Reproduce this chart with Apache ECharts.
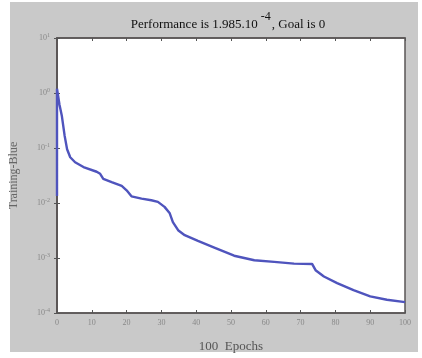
<!DOCTYPE html>
<html>
<head>
<meta charset="utf-8">
<script src="https://cdn.jsdelivr.net/npm/echarts@6/dist/echarts.min.js"></script>
<style>
html,body{margin:0;padding:0;background:#fff;}
#c{width:422px;height:358px;}
</style>
</head>
<body>
<div id="c"></div>
<script>
var epochs = [0, 0, 0.3, 0.7, 1.4, 2.2, 2.9, 3.8, 5.2, 7.6, 11.4, 12.4, 13.3, 15.7, 18.6, 20, 21.4, 24.3, 27.1, 29, 30.9, 32.4, 33.3, 34.8, 36.7, 40.5, 45.2, 50.9, 56.7, 62.4, 68.1, 73.3, 74.3, 76.7, 80.5, 85.2, 90, 94.8, 100];
var performance = [0.0134, 1.2, 1.15, 0.62, 0.38, 0.166, 0.095, 0.068, 0.055, 0.045, 0.037, 0.034, 0.0275, 0.024, 0.0204, 0.017, 0.0132, 0.012, 0.0112, 0.0105, 0.0085, 0.0065, 0.0045, 0.0032, 0.0026, 0.00204, 0.00155, 0.0011, 0.00091, 0.00085, 0.00079, 0.00078, 0.0006, 0.00046, 0.00035, 0.00026, 0.0002, 0.000174, 0.000158];
var xTicks = [0, 10, 20, 30, 40, 50, 60, 70, 80, 90, 100];
var yExponents = {"10": "1", "1": "0", "0.1": "-1", "0.01": "-2", "0.001": "-3", "0.0001": "-4"};

var chart = echarts.init(document.getElementById('c'));
var pts = epochs.map(function (e, i) { return [e, performance[i]]; });
var serif = '"Liberation Serif", "DejaVu Serif", serif';

chart.setOption({
  animation: false,
  backgroundColor: '#fff',
  graphic: [{
    type: 'rect', z: -10, silent: true,
    shape: {x: 10, y: 2, width: 408, height: 350},
    style: {fill: '#c9c9c9'}
  }],
  title: {
    text: 'Performance is 1.985.10{sup|-4}, Goal is 0',
    left: 223, top: 6, textAlign: 'center',
    textStyle: {
      fontFamily: serif, fontSize: 13, fontWeight: 'normal', color: '#111',
      rich: {
        sup: {fontFamily: serif, fontSize: 12, color: '#111', padding: [0, 1, 15, 3]}
      }
    }
  },
  grid: {
    left: 55, top: 38, right: 17, bottom: 43,
    show: true, backgroundColor: '#fff', borderColor: '#5a5555', borderWidth: 1.5
  },
  xAxis: [{
    type: 'value', min: 0, max: 100, interval: 10,
    name: '100  Epochs', nameLocation: 'middle', nameGap: 27,
    nameTextStyle: {fontFamily: serif, fontSize: 13, color: '#555'},
    axisLine: {show: true, lineStyle: {color: '#5a5555', width: 1.5}},
    axisTick: {show: true, inside: true, length: 3, lineStyle: {color: '#555'}},
    axisLabel: {fontFamily: serif, fontSize: 8, color: '#888', margin: 6,
      formatter: function (v) { return xTicks.indexOf(v) >= 0 ? String(v) : ''; }},
    splitLine: {show: false}
  }, {
    type: 'value', min: 0, max: 100, interval: 10, position: 'top',
    axisLine: {show: true, lineStyle: {color: '#5a5555', width: 1.5}},
    axisTick: {show: true, inside: true, length: 3, lineStyle: {color: '#555'}},
    axisLabel: {show: false}, splitLine: {show: false}
  }],
  yAxis: [{
    type: 'log', logBase: 10, min: 0.0001, max: 10,
    name: 'Training-Blue', nameLocation: 'middle', nameGap: 37,
    nameTextStyle: {fontFamily: serif, fontSize: 12, color: '#666'},
    axisLine: {show: true, lineStyle: {color: '#5a5555', width: 1.5}},
    axisTick: {show: true, inside: true, length: 3, lineStyle: {color: '#555'}},
    axisLabel: {
      margin: 7, color: '#888', fontFamily: serif, fontSize: 8,
      formatter: function (v) {
        var k = String(+v.toPrecision(3));
        var ex = yExponents[k];
        return ex === undefined ? '' : '10{sup|' + ex + '}';
      },
      rich: {sup: {fontFamily: serif, fontSize: 6, color: '#888', padding: [0, 0, 6, 0]}}
    },
    splitLine: {show: false}
  }, {
    type: 'log', logBase: 10, min: 0.0001, max: 10, position: 'right',
    axisLine: {show: true, lineStyle: {color: '#5a5555', width: 1.5}},
    axisTick: {show: true, inside: true, length: 3, lineStyle: {color: '#555'}},
    axisLabel: {show: false}, splitLine: {show: false}
  }],
  series: [{
    type: 'line', xAxisIndex: 0, yAxisIndex: 0,
    data: pts, showSymbol: false, symbol: 'none',
    lineStyle: {color: '#4f54bd', width: 2.4},
    clip: false
  }]
});
</script>
</body>
</html>
